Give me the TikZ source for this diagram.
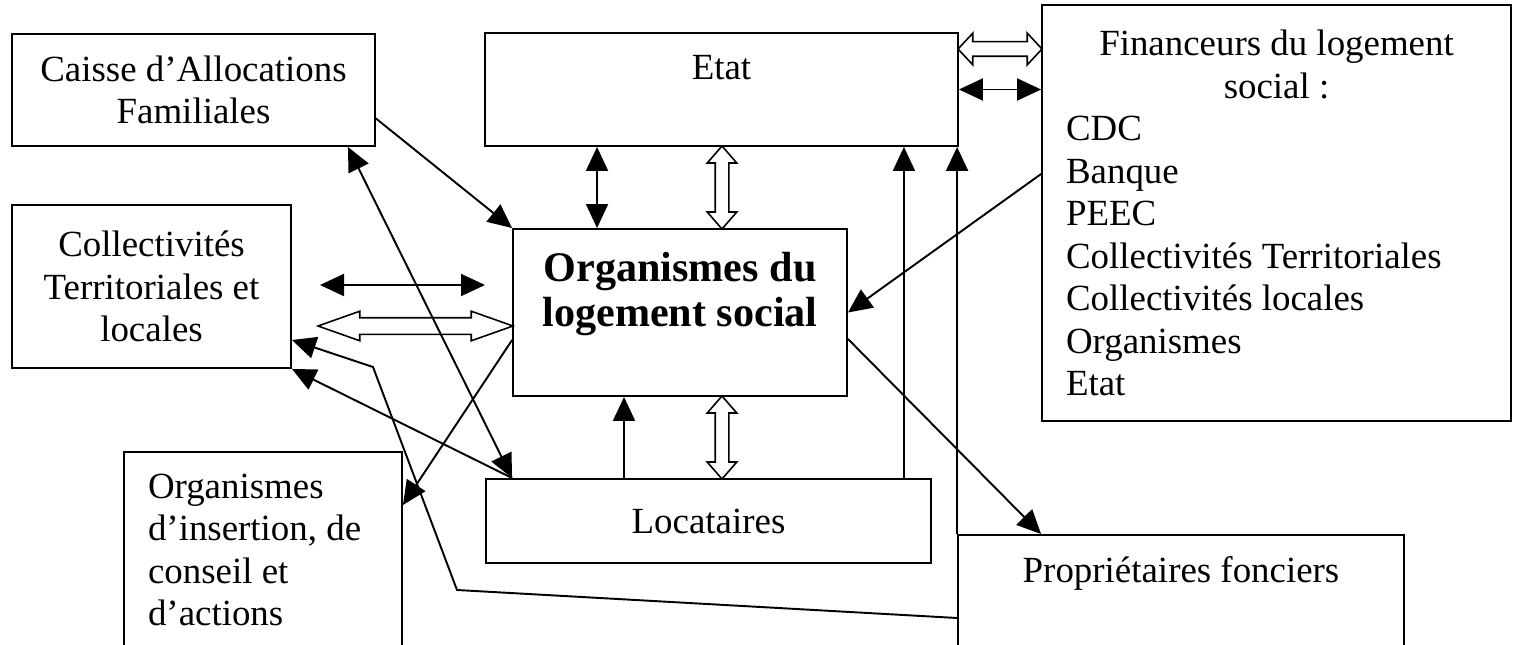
\documentclass[tikz,border=0pt]{standalone}
\usepackage{fontspec}
\setmainfont{Liberation Serif}
\usetikzlibrary{arrows.meta, shapes.arrows, calc}

\begin{document}
\begin{tikzpicture}
	[
	x = 0.02cm, y = -0.02cm,
	line width = 1.1pt,
	>={Triangle[length = 0.48cm, width = 0.44cm]},
	box/.style={draw = black, shape = rectangle, align = center, font = \fontsize{21}{24.2}\selectfont},
	hol/.style={double arrow, draw = black, line width = 0.9pt, inner xsep = 0pt, minimum width = 0pt}
	]
	
	\useasboundingbox (0,0) rectangle (1513,645);
	
	% Boxes, top row first
	\node[box, minimum width = 7.26cm, minimum height = 2.24cm](caf) at (193.5,90){Caisse d’Allocations\\Familiales};
	\node[box, minimum width = 9.46cm, minimum height = 2.26cm, text depth = 0.87cm](etat) at (721.5,89.5){Etat};
	\node[box, minimum width = 9.38cm, minimum height = 8.32cm, text width = 8.42cm, align = flush left, inner xsep = 0.48cm](fin) at (1276.5,213){\hspace*{\fill}Financeurs du logement\hspace*{\fill}\null\\\hspace*{\fill}social :\hspace*{\fill}\null\\CDC\\Banque\\PEEC\\Collectivités Territoriales\\Collectivités locales\\Organismes\\Etat};
	\node[box, minimum width = 5.58cm, minimum height = 3.26cm](colt) at (151.5,286.5){Collectivités\\Territoriales et\\locales};
	\node[box, minimum width = 6.68cm, minimum height = 3.34cm, font = \fontsize{24}{26}\selectfont\bfseries, text depth = 0.92cm](ols) at (680,312.5){Organismes du\\logement social};
	\node[box, minimum width = 5.56cm, minimum height = 3.92cm, text width = 4.6cm, align = flush left, inner xsep = 0.48cm](ins) at (263,550){Organismes\\d’insertion, de\\conseil et\\d’actions};
	\node[box, minimum width = 8.9cm, minimum height = 1.68cm](loc) at (708.5,521){Locataires};
	\node[box, minimum width = 8.92cm, minimum height = 2.5cm, text depth = 1.12cm](prop) at (1181,597.5){Propriétaires fonciers};
	
	% Bends and free ends
	\coordinate (b1) at (457,590);
	\coordinate (b2) at (373,367);
	\coordinate (cl1) at (320,285);
	\coordinate (cl2) at (485,285);
	\coordinate (e1) at ([xshift = -2.49cm]etat.south);
	\coordinate (l1) at ([xshift = -1.69cm]loc.north);
	\coordinate (l2) at ([xshift = -0.56cm]loc.north east);
	
	% Hollow arrows
	\node[hol, minimum height = 3.9cm, inner ysep = 0.15cm, double arrow head extend = 0.13cm, double arrow tip angle = 39](hc) at (415.5,326){};
	\node[hol, rotate = 90, minimum height = 1.66cm, inner ysep = 0.12cm, double arrow head extend = 0.16cm, double arrow tip angle = 82](he) at (722,187.5){};
	\node[hol, rotate = 90, minimum height = 1.66cm, inner ysep = 0.12cm, double arrow head extend = 0.16cm, double arrow tip angle = 82](hl) at (722,437.5){};
	\node[hol, minimum height = 1.68cm, inner ysep = 0.13cm, double arrow head extend = 0.17cm, double arrow tip angle = 94](hf) at (1000,49){};
	
	\draw[<->] (cl1) -- (cl2);
	\draw[<->] (etat.east) -- (etat.east -| fin.west);
	\draw[<->] (e1) -- (e1 |- ols.north);
	\draw[<->] ([xshift = -0.56cm]caf.south east) -- (loc.north -| ols.west);
	
	\draw[->] ($(caf.north east)!0.75!(caf.south east)$) -- (ols.north west);
	\draw[->] ([yshift = 0.78cm]fin.west) -- (ols.east);
	\draw[->] ([yshift = -0.53cm]ols.east) -- ([xshift = 1.68cm]prop.north west);
	\draw[->] ([yshift = -0.55cm]ols.west) -- ([yshift = 0.9cm]ins.east);
	\draw[->] (l1) -- (l1 |- ols.south);
	\draw[->] (l2) -- (l2 |- etat.south);
	\draw[->] (prop.north west) -- (prop.north west |- etat.south);
	\draw[->] (loc.north -| ols.west) -- (colt.south east);
	\draw[->] ([yshift = -0.41cm]prop.west) -- (b1) -- (b2) -- ([yshift = -1.07cm]colt.east);
\end{tikzpicture}
\end{document}
